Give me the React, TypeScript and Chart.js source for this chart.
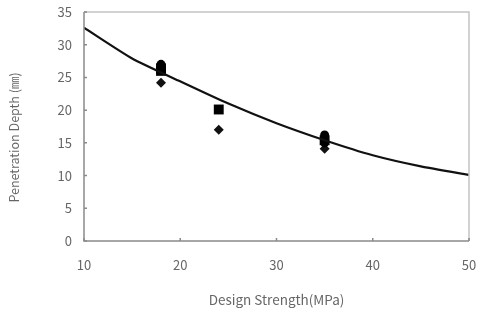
import React, { useEffect, useRef } from "react";
import { Chart, registerables } from "chart.js";

Chart.register(...registerables);

const curveX = [10, 15, 20, 25, 30, 35, 40, 45, 50];
const curveY = [32.6, 27.9, 24.4, 21.0, 18.0, 15.4, 13.1, 11.4, 10.1];

const squareX = [18, 18, 24, 35];
const squareY = [26.0, 26.4, 20.1, 15.4];

const circleX = [18, 35, 35];
const circleY = [27.0, 16.2, 15.0];

const diamondX = [18, 24, 35];
const diamondY = [24.2, 17.0, 14.1];

const xTicks = [10, 20, 30, 40, 50];
const yTicks = [0, 5, 10, 15, 20, 25, 30, 35];

const yTitle = "Penetration Depth (㎜)";
const xTitle = "Design Strength(MPa)";

const toPts = (xs: number[], ys: number[]) => xs.map((x, i) => ({ x, y: ys[i] }));

const FONT = "'Noto Sans CJK KR', 'DejaVu Sans', sans-serif";

const framePlugin = {
  id: "frame",
  afterDraw(chart: any) {
    const { ctx, chartArea: a, scales } = chart;
    ctx.save();
    ctx.strokeStyle = "#c4c4c4";
    ctx.lineWidth = 1.5;
    ctx.beginPath();
    ctx.moveTo(a.left, a.top);
    ctx.lineTo(a.right, a.top);
    ctx.lineTo(a.right, a.bottom);
    ctx.stroke();
    ctx.strokeStyle = "#8a8a8a";
    ctx.beginPath();
    ctx.moveTo(a.left, a.top);
    ctx.lineTo(a.left, a.bottom);
    ctx.lineTo(a.right, a.bottom);
    ctx.stroke();
    ctx.beginPath();
    for (const v of yTicks) {
      const y = scales.y.getPixelForValue(v);
      ctx.moveTo(a.left, y);
      ctx.lineTo(a.left + 3, y);
    }
    for (const v of xTicks) {
      const x = scales.x.getPixelForValue(v);
      ctx.moveTo(x, a.bottom);
      ctx.lineTo(x, a.bottom - 3);
    }
    ctx.stroke();
    // y-axis title
    ctx.translate(14, (a.top + a.bottom) / 2 + 11);
    ctx.rotate(-Math.PI / 2);
    ctx.fillStyle = "#666";
    ctx.font = `12.5px ${FONT}`;
    ctx.textAlign = "center";
    ctx.textBaseline = "middle";
    ctx.fillText(yTitle, 0, 0);
    ctx.restore();
  },
};

export default function App() {
  const ref = useRef<HTMLCanvasElement>(null);
  useEffect(() => {
    if (!ref.current) return;
    const chart = new Chart(ref.current, {
      type: "scatter",
      data: {
        datasets: [
          {
            type: "line",
            data: toPts(curveX, curveY),
            borderColor: "#111",
            borderWidth: 2.2,
            pointRadius: 0,
            tension: 0.2,
            fill: false,
            order: 0,
          } as any,
          {
            data: toPts(squareX, squareY),
            pointStyle: "rect",
            pointRadius: 7,
            backgroundColor: "#000",
            borderColor: "#000",
            borderWidth: 0,
          },
          {
            data: toPts(circleX, circleY),
            pointStyle: "circle",
            pointRadius: 4.5,
            backgroundColor: "#000",
            borderColor: "#000",
            borderWidth: 0,
          },
          {
            data: toPts(diamondX, diamondY),
            pointStyle: "rectRot",
            pointRadius: 5,
            backgroundColor: "#111",
            borderColor: "#111",
            borderWidth: 0,
          },
        ],
      },
      options: {
        animation: false,
        responsive: false,
        layout: { padding: { top: 12, right: 10, bottom: 14, left: 0 } },
        plugins: { legend: { display: false }, tooltip: { enabled: false } },
        scales: {
          x: {
            type: "linear",
            min: 10,
            max: 50,
            afterBuildTicks: (s: any) => {
              s.ticks = xTicks.map((v) => ({ value: v }));
            },
            afterFit: (s: any) => {
              s.height = 70;
              s.paddingLeft = 0;
              s.paddingRight = 0;
            },
            grid: { display: false, drawTicks: false },
            border: { display: false },
            ticks: { color: "#666", font: { family: FONT, size: 13 }, padding: 16 },
            title: {
              display: true,
              text: xTitle,
              color: "#666",
              font: { family: FONT, size: 13.5 },
              padding: { top: 0, bottom: 3 },
            },
          },
          y: {
            type: "linear",
            min: 0,
            max: 35,
            afterBuildTicks: (s: any) => {
              s.ticks = yTicks.map((v) => ({ value: v }));
            },
            afterFit: (s: any) => {
              s.width = 84;
              s.paddingTop = 0;
              s.paddingBottom = 0;
            },
            grid: { display: false, drawTicks: false },
            border: { display: false },
            ticks: { color: "#666", font: { family: FONT, size: 13 }, padding: 12 },
            title: { display: false },
          },
        },
      },
      plugins: [framePlugin],
    });
    return () => chart.destroy();
  }, []);
  return (
    <div style={{ position: "absolute", left: 0, top: 0, width: 479, height: 325, background: "#fff" }}>
      <canvas ref={ref} width={479} height={325} />
    </div>
  );
}
